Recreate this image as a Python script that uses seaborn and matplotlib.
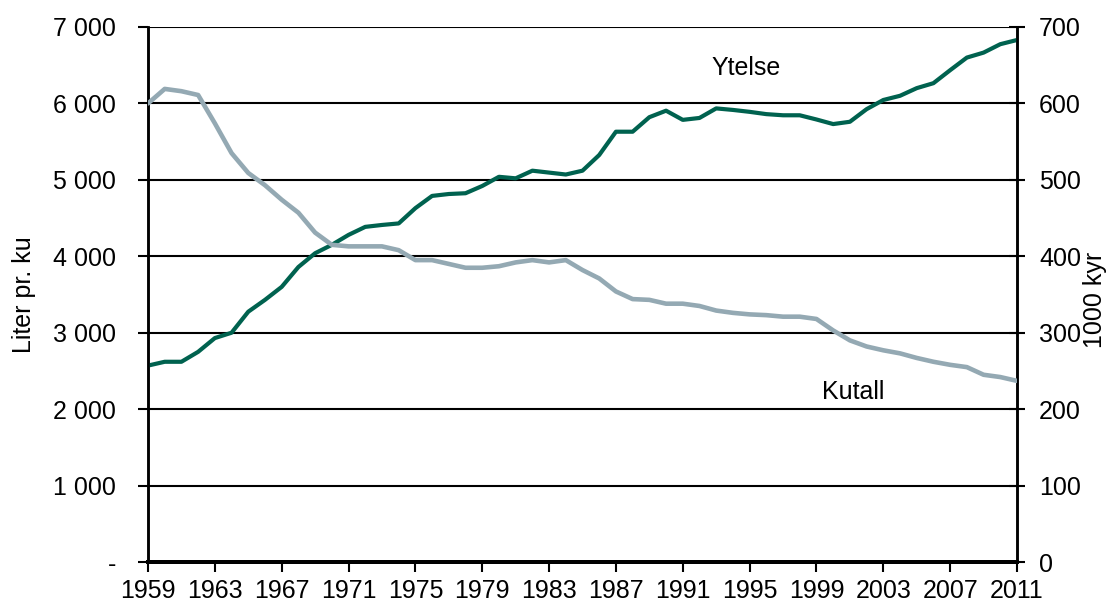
import matplotlib
matplotlib.use("Agg")
import matplotlib.pyplot as plt
import seaborn as sns
from matplotlib.ticker import FuncFormatter
from pandas import DataFrame

years = list(range(1959, 2012))

# Ytelse, liter pr. ku (left axis)
ytelse = [
    2570, 2620, 2620, 2750, 2930, 3000, 3275, 3430, 3600, 3860,
    4040, 4150, 4280, 4385, 4410, 4430, 4630, 4790, 4815, 4825,
    4920, 5040, 5020, 5120, 5095, 5070, 5120, 5325, 5630, 5630,
    5820, 5905, 5785, 5810, 5935, 5915, 5890, 5860, 5845, 5845,
    5790, 5730, 5760, 5925, 6045, 6100, 6200, 6265, 6435, 6600,
    6665, 6775, 6830,
]

# Kutall, 1000 kyr (right axis)
kutall = [
    600, 619, 616, 611, 574, 535, 509, 493, 474, 457,
    431, 415, 413, 413, 413, 408, 395, 395, 390, 385,
    385, 387, 392, 395, 392, 395, 382, 371, 354, 344,
    343, 338, 338, 335, 329, 326, 324, 323, 321, 321,
    318, 303, 290, 282, 277, 273, 267, 262, 258, 255,
    245, 242, 237,
]

left_ticks = [0, 1000, 2000, 3000, 4000, 5000, 6000, 7000]
right_ticks = [0, 100, 200, 300, 400, 500, 600, 700]
year_ticks = list(range(1959, 2012, 4))

df = DataFrame({"year": years, "Ytelse": ytelse, "Kutall": kutall})

sns.set_style("white")
plt.rcParams["font.family"] = ["Liberation Sans", "DejaVu Sans"]
plt.rcParams["text.color"] = "black"
plt.rcParams["axes.labelcolor"] = "black"
plt.rcParams["xtick.color"] = "black"
plt.rcParams["ytick.color"] = "black"

green = "#00624f"
grey = "#94a9b3"
fs = 18

fig = plt.figure(figsize=(11.07, 6.04), dpi=100)
ax = fig.add_axes([0.1337, 0.0695, 0.785, 0.8858])
ax2 = ax.twinx()

for y in left_ticks[1:]:
    ax.axhline(y, color="black", lw=1.5, zorder=1)

sns.lineplot(data=df, x="year", y="Ytelse", color=green, lw=3, ax=ax, zorder=3)
sns.lineplot(data=df, x="year", y="Kutall", color=grey, lw=3.3, ax=ax2, zorder=3)

ax.set_xlim(1959, 2011)
ax.set_ylim(0, 7000)
ax2.set_ylim(0, 700)

ax.set_xticks(year_ticks)
ax.set_yticks(left_ticks)
ax2.set_yticks(right_ticks)


def thousands(v, pos):
    if v == 0:
        return "-"
    return f"{int(v):,}".replace(",", " ")


ax.yaxis.set_major_formatter(FuncFormatter(thousands))

ax.tick_params(axis="y", direction="out", length=7, width=1.5, pad=16,
               labelsize=fs, left=True, colors="black")
ax.tick_params(axis="x", direction="out", length=7, width=1.5, pad=5,
               labelsize=fs, bottom=True, colors="black")
ax2.tick_params(axis="y", direction="inout", length=12, width=1.5, pad=10,
                labelsize=fs, right=True, colors="black")

for a in (ax, ax2):
    for side in ("left", "right"):
        a.spines[side].set_color("black")
        a.spines[side].set_linewidth(1.8)
    a.spines["top"].set_visible(False)
    a.spines["bottom"].set_color("black")
    a.spines["bottom"].set_linewidth(2.8)

ax.set_xlabel("")
ax.set_ylabel("Liter pr. ku", fontsize=fs, labelpad=12, color="black")
ax2.set_ylabel("1000 kyr", fontsize=fs, color="black")
ax2.yaxis.label.set_va("center")
ax2.yaxis.set_label_coords(1.0897, 0.49)

ax.text(1994.8, 6460, "Ytelse", fontsize=fs, ha="center", va="center", color="black")
ax2.text(2001.2, 222, "Kutall", fontsize=fs, ha="center", va="center", color="black")

fig.savefig("out.png", dpi=100)
